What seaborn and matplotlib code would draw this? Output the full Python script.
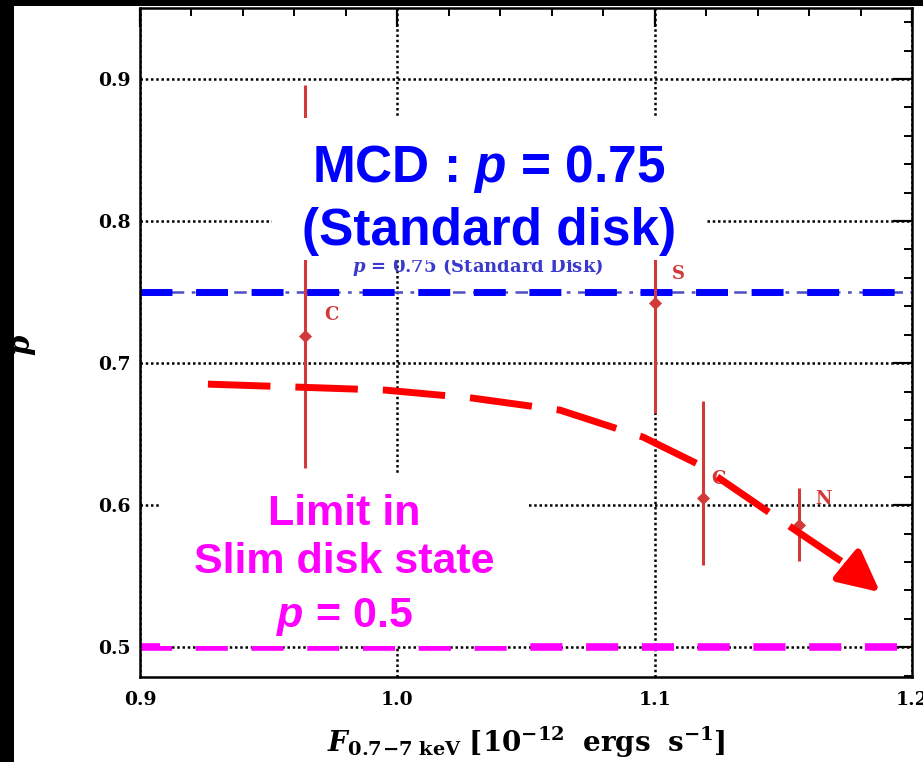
import numpy as np
import pandas as pd
import matplotlib
matplotlib.use("Agg")
import matplotlib.pyplot as plt
import seaborn as sns
from matplotlib.patches import Rectangle
from matplotlib.ticker import MultipleLocator

# ---------------- data ----------------
obs_labels = ["C", "S", "C", "N"]
obs_flux = [0.964, 1.100, 1.1187, 1.156]
obs_p = [0.719, 0.742, 0.605, 0.586]
obs_p_low = [0.626, 0.665, 0.558, 0.561]
obs_p_high = [0.896, 0.810, 0.673, 0.612]

# hand-drawn trend arrow
trend_flux = [0.9264, 0.9610, 0.9952, 1.0290, 1.0632, 1.0955, 1.1176, 1.1460, 1.1748]
trend_p = [0.6852, 0.6831, 0.6810, 0.6754, 0.6669, 0.6479, 0.6282, 0.5930, 0.5577]
arrow_tip_flux = 1.1876
arrow_tip_p = 0.5387

p_standard = 0.75
p_slim = 0.5

x_ticks = [0.9, 1.0, 1.1, 1.2]
x_ticklabels = ["0.9", "1.0", "1.1", "1.2"]
y_ticks = [0.5, 0.6, 0.7, 0.8, 0.9]
y_ticklabels = ["0.5", "0.6", "0.7", "0.8", "0.9"]

x_label = r"$\mathbfit{F}_{\mathbf{0.7\!-\!7\ keV}}\ \mathbf{[10^{-12}\ \ ergs\ \ s^{-1}]}$"
y_label = r"$\mathbfit{p}$"
blue_line1 = "MCD : $p$ = 0.75"
blue_line2 = "(Standard disk)"
orig_note = r"$\mathbfit{p}$ = 0.75 (Standard Disk)"
mag_lines = ["Limit in", "Slim disk state", "$p$ = 0.5"]

df = pd.DataFrame({"flux": obs_flux, "p": obs_p, "lo": obs_p_low,
                   "hi": obs_p_high, "lab": obs_labels})
trend = pd.DataFrame({"flux": trend_flux, "p": trend_p})

# ---------------- style ----------------
sns.set_theme(style="white")
plt.rcParams["font.family"] = ["Liberation Sans", "DejaVu Sans"]
plt.rcParams["mathtext.fontset"] = "custom"
plt.rcParams["mathtext.it"] = "Liberation Sans:italic:bold"
plt.rcParams["mathtext.rm"] = "Liberation Sans:bold"
plt.rcParams["mathtext.bf"] = "Liberation Sans:bold"

W, H = 923, 762
fig = plt.figure(figsize=(W / 100, H / 100), dpi=100, facecolor="black")
fig.patches.append(Rectangle((14 / W, 0), 1, 1 - 6 / H, transform=fig.transFigure,
                             facecolor="white", edgecolor="none", zorder=-10))
ax = fig.add_axes([140 / W, 1 - 677 / H, (912 - 140) / W, (677 - 8) / H])
ax.set_facecolor("white")

red = "#d23a3a"

# grid
ax.set_axisbelow(True)
ax.grid(True, which="major", color="black", linestyle=(0, (1.0, 1.1)), linewidth=1.8)

# reference lines
ax.axhline(p_standard, color="#4d4dc4", lw=1.8, linestyle=(0, (5, 3, 1.5, 3)), zorder=1.5)
ax.axhline(p_standard, color="#0000ff", lw=5.0, linestyle=(0, (4.6, 3.4)), zorder=1.6)
ax.axhline(p_slim, color="#ff00ff", lw=5.5, linestyle=(0, (4.2, 3.1)), zorder=1.6)

# data points
ax.errorbar(df["flux"], df["p"],
            yerr=[df["p"] - df["lo"], df["hi"] - df["p"]],
            fmt="none", ecolor=red, elinewidth=2.2, capsize=0, zorder=2)
sns.scatterplot(data=df, x="flux", y="p", marker="D", s=38, color=red,
                edgecolor=red, ax=ax, zorder=2.2, legend=False)
label_offsets = [(19, 15), (17, 21), (11, 14), (18, 19)]
for (_, r), off in zip(df.iterrows(), label_offsets):
    ax.annotate(r["lab"], (r["flux"], r["p"]), xytext=off, textcoords="offset points",
                ha="center", va="center", color=red, fontsize=13,
                fontfamily="DejaVu Serif", fontweight="bold", zorder=2.3)

# original small note (partly hidden)
ax.text(1.0314, 0.7641, orig_note, ha="center", va="baseline", color="#3a3acc",
        fontsize=13, fontfamily="DejaVu Serif", fontweight="bold",
        math_fontfamily="dejavuserif", zorder=2.4)

# white boxes
ax.add_patch(Rectangle((0.9513, 0.7725), 0.1683, 0.1000, facecolor="white",
                       edgecolor="none", zorder=3))
ax.add_patch(Rectangle((0.9078, 0.5007), 0.1430, 0.1218, facecolor="white",
                       edgecolor="none", zorder=3))

# annotation texts
ax.text(1.0356, 0.8275, blue_line1, ha="center", va="baseline", color="#0000ff",
        fontsize=37, fontweight="bold", zorder=5)
ax.text(1.0356, 0.7831, blue_line2, ha="center", va="baseline", color="#0000ff",
        fontsize=37, fontweight="bold", zorder=5)
for txt, yb in zip(mag_lines, [0.5859, 0.5521, 0.5141]):
    ax.text(0.9793, yb, txt, ha="center", va="baseline", color="#ff00ff",
            fontsize=31, fontweight="bold", zorder=5)

# trend arrow
sns.lineplot(data=trend, x="flux", y="p", sort=False, ax=ax, color="#ff0000",
             lw=5.0, zorder=4)
ax.lines[-1].set_linestyle((0, (9, 3.6)))
ax.lines[-1].set_solid_capstyle("butt")
ax.annotate("", xy=(arrow_tip_flux, arrow_tip_p),
            xytext=(trend_flux[-1], trend_p[-1]),
            arrowprops=dict(arrowstyle="-|>,head_length=1.25,head_width=0.62",
                            mutation_scale=20, color="#ff0000", lw=5,
                            shrinkA=0, shrinkB=0), zorder=4)

# axes
ax.set_xlim(0.9, 1.2)
ax.set_ylim(0.479, 0.95)
ax.set_xticks(x_ticks, x_ticklabels, fontfamily="DejaVu Serif", fontweight="bold", fontsize=13.5)
ax.set_yticks(y_ticks, y_ticklabels, fontfamily="DejaVu Serif", fontweight="bold", fontsize=13.5)
ax.xaxis.set_minor_locator(MultipleLocator(0.02))
ax.yaxis.set_minor_locator(MultipleLocator(0.02))
ax.tick_params(which="major", direction="in", length=14, width=1.6, top=True,
               right=True, color="black", labelcolor="black")
ax.tick_params(which="minor", direction="in", length=5.5, width=1.4, top=True,
               right=True, color="black")
ax.tick_params(axis="x", which="major", pad=10)
ax.tick_params(axis="y", which="major", pad=7)
for s in ax.spines.values():
    s.set_color("black")
    s.set_linewidth(1.8)

ax.set_xlabel(x_label, fontsize=20, math_fontfamily="dejavuserif", color="black")
ax.xaxis.set_label_coords(0.5, -0.072)
ax.xaxis.label.set_va("top")
ax.set_ylabel(y_label, fontsize=21, math_fontfamily="dejavuserif", color="black")
ax.yaxis.set_label_coords(-0.132, 0.496)

fig.savefig("out.png", dpi=100, facecolor=fig.get_facecolor())
